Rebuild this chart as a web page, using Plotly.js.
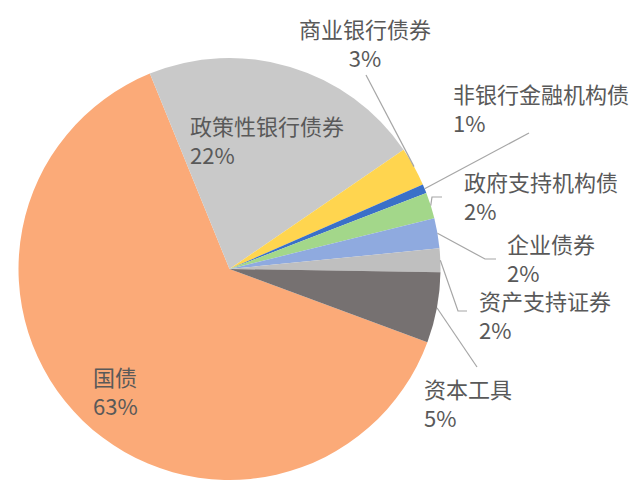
<!DOCTYPE html>
<html>
<head>
<meta charset="utf-8">
<script src="https://cdn.plot.ly/plotly-3.0.1.min.js"></script>
<style>
  html, body { margin: 0; padding: 0; background: #fff; }
  #myDiv { width: 640px; height: 490px; }
</style>
</head>
<body>
<div id="myDiv"></div>
<script>
// data, clockwise from the 国债 slice
var labels = ['国债', '政策性银行债券', '商业银行债券', '非银行金融机构债', '政府支持机构债', '企业债券', '资产支持证券', '资本工具']
var values = [63.2, 21.6, 3.0, 0.7, 2.0, 2.3, 1.8, 5.4]
var colors = ['#FBAA78', '#C9C9C9', '#FFD54F', '#3A70C8', '#A3D78A', '#8FAADF', '#BFBFBF', '#767171']

var W = 640, H = 490
var cx = 229.5, cy = 269, r = 211
var rotation = 110.3

// label spots (pixels): text anchor, and leader line bend points (empty = no line)
var spots = [
  {x: 91, y: 390, anchor: 'left', line: null},
  {x: 188, y: 139.5, anchor: 'left', line: null},
  {x: 365, y: 42.5, anchor: 'center', line: [[366, 75]]},
  {x: 451, y: 108, anchor: 'left', line: [[529, 133]]},
  {x: 462, y: 195.5, anchor: 'left', line: [[432, 197], [442, 197]]},
  {x: 505, y: 257, anchor: 'left', line: [[485, 259], [496, 259]]},
  {x: 477, y: 314, anchor: 'left', line: [[458, 311], [467, 311]]},
  {x: 422, y: 402, anchor: 'left', line: [[477, 367]]}
]

function px(x) { return x / W }
function py(y) { return 1 - y / H }

var total = values.reduce(function(a, b) { return a + b }, 0)
var annotations = []
var shapes = []
var cum = 0
for (var i = 0; i < values.length; i++) {
  var mid = (rotation + (cum + values[i] / 2) / total * 360) * Math.PI / 180
  cum += values[i]
  var s = spots[i]
  annotations.push({
    x: px(s.x), y: py(s.y), xref: 'paper', yref: 'paper',
    xanchor: s.anchor, yanchor: 'middle', align: s.anchor,
    text: labels[i] + '<br>' + Math.round(values[i] / total * 100) + '%',
    showarrow: false,
    font: {family: 'Noto Sans CJK SC', size: 22, color: '#595959'}
  })
  if (s.line) {
    var ex = cx + r * Math.sin(mid), ey = cy - r * Math.cos(mid)
    var path = 'M ' + px(ex) + ' ' + py(ey)
    s.line.forEach(function(p) { path += ' L ' + px(p[0]) + ' ' + py(p[1]) })
    shapes.push({type: 'path', xref: 'paper', yref: 'paper', path: path,
      line: {color: '#A6A6A6', width: 1.2}})
  }
}

var trace1 = {
  type: 'pie',
  labels: labels,
  values: values,
  sort: false,
  direction: 'clockwise',
  rotation: rotation,
  textinfo: 'none',
  marker: {colors: colors, line: {width: 0}},
  domain: {x: [px(cx - r), px(cx + r)], y: [py(cy + r), py(cy - r)]},
  showlegend: false
}

var layout = {
  width: W, height: H,
  margin: {l: 0, r: 0, t: 0, b: 0},
  paper_bgcolor: '#fff',
  font: {family: 'Noto Sans CJK SC'},
  annotations: annotations,
  shapes: shapes
}

Plotly.newPlot('myDiv', [trace1], layout, {displayModeBar: false})
</script>
</body>
</html>
